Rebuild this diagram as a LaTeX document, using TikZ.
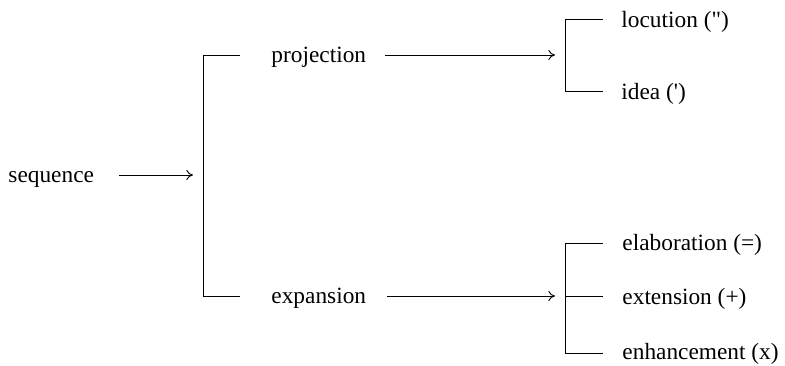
\documentclass[tikz,border=0pt]{standalone}
\usepackage{fontspec}
\setmainfont{Liberation Serif}
\usetikzlibrary{arrows.meta}

\begin{document}
\begin{tikzpicture}[x=0.75pt, y=-0.75pt, line width=0.7pt, % 1単位=1px、y軸は下向き
    >={To[length=5pt, width=7.5pt]}, % 矢印の先端
    lbl/.style={anchor=mid west, inner sep=0pt, yshift=-3pt, font=\fontsize{17.5}{21}\selectfont}, % ラベル
    arr/.style={->, shorten <=#1, shorten >=7.5pt}] % 矢印、始点側の余白は個別指定
    \useasboundingbox (0,0) rectangle (785,366); % 全体の大きさ

    \node[lbl] (seq) at (8,175) {sequence};
    \coordinate (B) at (203,175); % 大きい括弧
    \coordinate (Bt) at (203,55);
    \coordinate (Bb) at (203,296);
    \draw (Bt) ++(37,0) -- (Bt) -- (Bb) -- ++(37,0);
    \draw[arr=18.75pt] (seq.mid east |- B) -- (B);

    \node[lbl] (proj) at (271,55) {projection};
    \node[lbl] (expa) at (271,296) {expansion};

    \coordinate (P) at (565,55); % 上の括弧
    \coordinate (Pt) at (565,19);
    \coordinate (Pb) at (565,91);
    \draw (Pt) ++(38,0) -- (Pt) -- (Pb) -- ++(38,0);
    \draw[arr=14pt] (proj.mid east |- P) -- (P);

    \coordinate (E) at (565,296); % 下の括弧
    \coordinate (Et) at (565,243);
    \coordinate (Eb) at (565,353);
    \draw (Et) ++(38,0) -- (Et) -- (Eb) -- ++(38,0);
    \draw (E) -- ++(38,0); % 真ん中の枝
    \draw[arr=15.5pt] (expa.mid east |- E) -- (E);

    \node[lbl] (loc) at (621,20) {locution (\textquotedbl)};
    \node[lbl] (idea) at (621,92) {idea (\textquotesingle)};
    \node[lbl] (elab) at (622,243) {elaboration (=)};
    \node[lbl] (ext) at (622,297) {extension (+)};
    \node[lbl] (enh) at (622,352) {enhancement (x)};
\end{tikzpicture}
\end{document}
